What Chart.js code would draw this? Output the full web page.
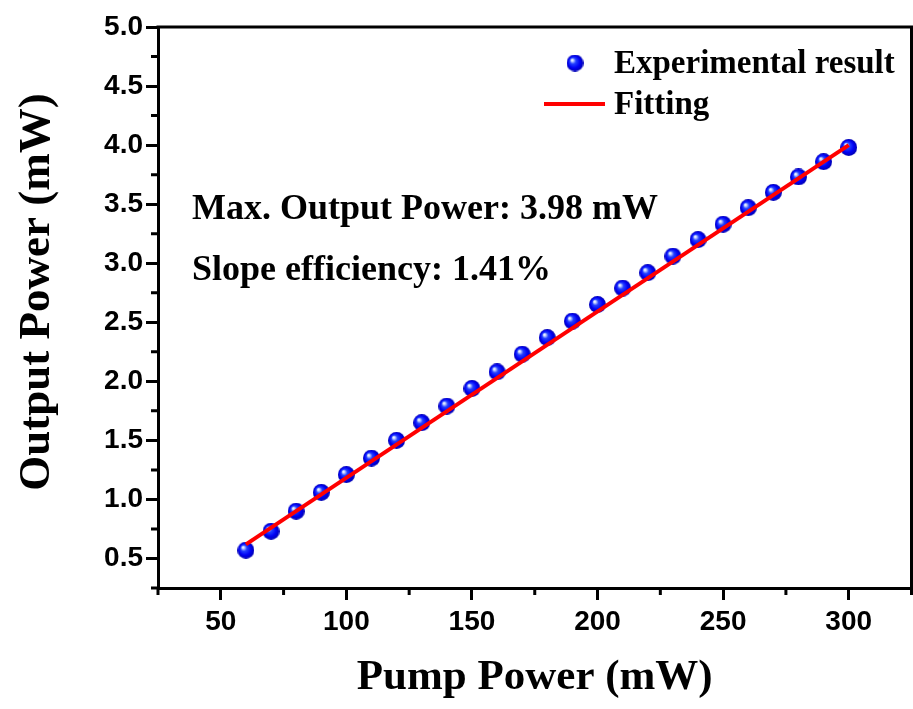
<!DOCTYPE html>
<html><head><meta charset="utf-8">
<script src="https://cdn.jsdelivr.net/npm/chart.js@4/dist/chart.umd.min.js"></script>
<style>html,body{margin:0;padding:0;background:#fff;}</style>
</head><body>
<canvas id="c" width="913" height="709"></canvas>
<script>
// ---- data ----
const pumpPower = [60,70,80,90,100,110,120,130,140,150,160,170,180,190,200,210,220,230,240,250,260,270,280,290,300];
const outputPower = [0.57,0.73,0.90,1.06,1.21,1.35,1.50,1.65,1.79,1.94,2.08,2.23,2.37,2.51,2.65,2.79,2.92,3.06,3.20,3.33,3.47,3.60,3.73,3.86,3.98];
const fitPump = [60,300];
const fitOutput = [0.62,4.00];
const xTickValues = [50,100,150,200,250,300];
const xMinorValues = [25,75,125,175,225,275,325];
const yTickValues = [0.5,1.0,1.5,2.0,2.5,3.0,3.5,4.0,4.5,5.0];
const yMinorValues = [0.25,0.75,1.25,1.75,2.25,2.75,3.25,3.75,4.25,4.75];
const seriesLabels = ['Experimental result','Fitting'];
const annotations = ['Max. Output Power: 3.98 mW','Slope efficiency: 1.41%'];
const xTitle = 'Pump Power (mW)';
const yTitle = 'Output Power (mW)';

// ---- sphere marker ----
function makeSphere(r){
  const cv = document.createElement('canvas');
  cv.width = cv.height = Math.ceil(2*r);
  const g = cv.getContext('2d');
  const c = r;
  const grad = g.createRadialGradient(c-0.38*r, c-0.38*r, 0, c, c, r);
  grad.addColorStop(0, '#ffffff');
  grad.addColorStop(0.12, '#d8e4ff');
  grad.addColorStop(0.36, '#2440ff');
  grad.addColorStop(0.7, '#0000f4');
  grad.addColorStop(1, '#0000b0');
  g.fillStyle = grad;
  g.beginPath(); g.arc(c, c, r, 0, Math.PI*2); g.fill();
  return cv;
}
const sphere = makeSphere(8.5);

const serif = "'Liberation Serif','Times New Roman',serif";
const sans = "'Liberation Sans',Arial,sans-serif";

const decorPlugin = {
  id: 'decor',
  afterLayout(chart){
    // stretch the plot area to the right edge of the canvas
    const a = chart.chartArea, xs = chart.scales.x;
    const target = chart.width - 1.5;
    a.right = target; a.width = a.right - a.left;
    xs.right = target; xs.width = xs.right - xs.left;
    xs.configure();
  },
  afterDatasetsDraw(chart){
    const ctx = chart.ctx, a = chart.chartArea;
    const xs = chart.scales.x, ys = chart.scales.y;
    ctx.save();
    ctx.strokeStyle = '#000'; ctx.lineWidth = 3; ctx.lineCap = 'butt';
    // top and right frame
    ctx.beginPath();
    ctx.moveTo(a.left-1.5, a.top); ctx.lineTo(a.right, a.top); ctx.lineTo(a.right, a.bottom+1.5);
    ctx.stroke();
    // minor ticks
    ctx.beginPath();
    xMinorValues.forEach(v => { const p = xs.getPixelForValue(v); ctx.moveTo(p, a.bottom); ctx.lineTo(p, a.bottom+7); });
    yMinorValues.forEach(v => { const p = ys.getPixelForValue(v); ctx.moveTo(a.left, p); ctx.lineTo(a.left-7, p); });
    ctx.stroke();
    // y axis title
    ctx.save();
    ctx.translate(37, 292);
    ctx.rotate(-Math.PI/2);
    ctx.fillStyle = '#000'; ctx.textAlign = 'center'; ctx.textBaseline = 'middle';
    ctx.font = 'bold 45px ' + serif;
    ctx.fillText(yTitle, 0, 0);
    ctx.restore();
    // legend
    ctx.drawImage(sphere, 575-8.5, 63-8.5);
    ctx.strokeStyle = '#ff0000'; ctx.lineWidth = 4;
    ctx.beginPath(); ctx.moveTo(544, 104); ctx.lineTo(605, 104); ctx.stroke();
    ctx.fillStyle = '#000'; ctx.textBaseline = 'middle'; ctx.textAlign = 'left';
    ctx.font = 'bold 33px ' + serif;
    ctx.fillText(seriesLabels[0], 614, 64);
    ctx.fillText(seriesLabels[1], 614, 105);
    // annotations
    ctx.font = 'bold 36px ' + serif;
    ctx.fillText(annotations[0], 192, 210);
    ctx.fillText(annotations[1], 192, 271);
    ctx.restore();
  }
};

new Chart(document.getElementById('c'), {
  type: 'scatter',
  data: {
    datasets: [
      { label: seriesLabels[1], type: 'line', order: 0,
        data: fitPump.map((x,i)=>({x, y: fitOutput[i]})),
        borderColor: '#ff0000', borderWidth: 4, pointRadius: 0, fill: false, tension: 0 },
      { label: seriesLabels[0], order: 1,
        data: pumpPower.map((x,i)=>({x, y: outputPower[i]})),
        pointStyle: sphere, pointRadius: 8.5 }
    ]
  },
  options: {
    responsive: false, animation: false, devicePixelRatio: 1,
    layout: { padding: { top: 27, right: 1.5, left: 0, bottom: 0 } },
    plugins: { legend: { display: false }, tooltip: { enabled: false } },
    scales: {
      x: {
        type: 'linear', min: 25, max: 325,
        afterBuildTicks: s => { s.ticks = xTickValues.map(v => ({value: v})); },
        afterFit: s => { s.height = 121; s.paddingLeft = 0; s.paddingRight = 0; },
        ticks: { color: '#000', font: { family: sans, size: 28, weight: 'bold' }, padding: 5,
                 callback: v => String(v), maxRotation: 0 },
        grid: { drawOnChartArea: false, drawTicks: true, tickLength: 12, tickWidth: 3, tickColor: '#000' },
        border: { display: true, width: 3, color: '#000' },
        title: { display: true, text: xTitle, color: '#000',
                 font: { family: serif, size: 43, weight: 'bold' }, padding: { top: 0, bottom: 5 } }
      },
      y: {
        type: 'linear', min: 0.25, max: 5.0,
        afterBuildTicks: s => { s.ticks = yTickValues.map(v => ({value: v})); },
        afterFit: s => { s.width = 158; s.paddingTop = 0; s.paddingBottom = 0; },
        ticks: { color: '#000', font: { family: sans, size: 28, weight: 'bold' }, padding: 3,
                 callback: v => Number(v).toFixed(1) },
        grid: { drawOnChartArea: false, drawTicks: true, tickLength: 12, tickWidth: 3, tickColor: '#000' },
        border: { display: true, width: 3, color: '#000' },
        title: { display: false, text: yTitle }
      }
    }
  },
  plugins: [decorPlugin]
});
</script>
</body></html>
